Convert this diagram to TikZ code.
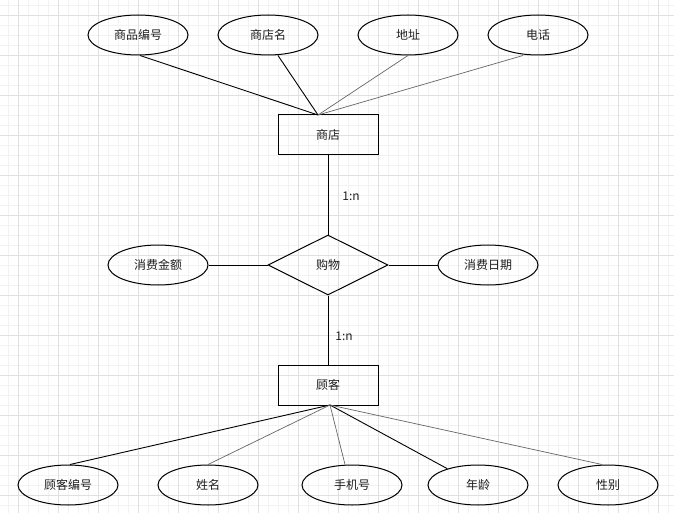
\documentclass[tikz,border=0pt]{standalone}
\usepackage{fontspec}
\setmainfont{Noto Sans CJK SC}
\usetikzlibrary{shapes.geometric}
\definecolor{gridminor}{RGB}{242,242,242}
\definecolor{gridmajor}{RGB}{224,224,224}
\definecolor{txt}{RGB}{30,30,30}
\begin{document}
\begin{tikzpicture}[x=1pt,y=-1pt,
  every node/.style={font=\fontsize{12}{14}\selectfont, text=txt},
  attr/.style={ellipse, draw=black, line width=1pt, minimum width=100pt, minimum height=40pt, inner sep=0pt},
  ent/.style={rectangle, draw=black, line width=1pt, minimum width=100pt, minimum height=40pt, inner sep=0pt},
  rel/.style={diamond, draw=black, line width=1pt, minimum width=120pt, minimum height=60pt, inner sep=0pt, aspect=2},
  blk/.style={draw=black, line width=0.9pt},
  gry/.style={draw=black!60, line width=0.7pt},
  lbl/.style={inner sep=0pt}
]
\useasboundingbox (0,0) rectangle (674,513);
\fill[white] (0,0) rectangle (674,513);
\foreach \x in {8,18,...,668} \draw[gridminor, line width=0.8pt] (\x,0) -- (\x,513);
\foreach \y in {5,15,...,505} \draw[gridminor, line width=0.8pt] (0,\y) -- (674,\y);
\foreach \x in {18,58,...,658} \draw[gridmajor, line width=0.8pt] (\x,0) -- (\x,513);
\foreach \y in {15,55,...,495} \draw[gridmajor, line width=0.8pt] (0,\y) -- (674,\y);

% top attributes
\node[attr] (a1) at (138,35) {商品编号};
\node[attr] (a2) at (268,35) {商店名};
\node[attr] (a3) at (408,35) {地址};
\node[attr] (a4) at (538,35) {电话};
% entity shop
\node[ent] (shop) at (328,135) {商店};
\coordinate (shopjoin) at (318,115);
% relationship
\node[rel] (buy) at (328,265) {购物};
\node[attr] (a5) at (158,265) {消费金额};
\node[attr] (a6) at (488,265) {消费日期};
% entity customer
\node[ent] (cust) at (328,385) {顾客};
\coordinate (custjoin) at (330,405);
% bottom attributes
\node[attr] (b1) at (68,485) {顾客编号};
\node[attr] (b2) at (208,485) {姓名};
\node[attr] (b3) at (352,485) {手机号};
\node[attr] (b4) at (478,485) {年龄};
\node[attr] (b5) at (608,485) {性别};

% connectors top
\draw[blk] ([xshift=2pt]a1.south) -- (shopjoin);
\draw[blk] ([xshift=10pt]a2.south) -- (shopjoin);
\draw[gry] (a3.south) -- (shopjoin);
\draw[gry] ([xshift=-15pt]a4.south) -- (shopjoin);
% relationship connectors
\draw[blk] (shop.south) -- (buy.north);
\draw[blk] (buy.south) -- (cust.north);
\draw[blk] (a5.east) -- (buy.west);
\draw[blk] (buy.east) -- (a6.west);
\node[lbl] (l1) at (351,196) {1:n};
\node[lbl] (l2) at (344,336) {1:n};
% bottom connectors
\draw[blk] ([xshift=2pt]b1.north) -- (custjoin);
\draw[gry] (b2.north) -- (custjoin);
\draw[gry] ([xshift=-7pt]b3.north) -- (custjoin);
\draw[blk] (b4.152) -- (custjoin);
\draw[gry] ([xshift=-6pt]b5.north) -- (custjoin);
\end{tikzpicture}
\end{document}
